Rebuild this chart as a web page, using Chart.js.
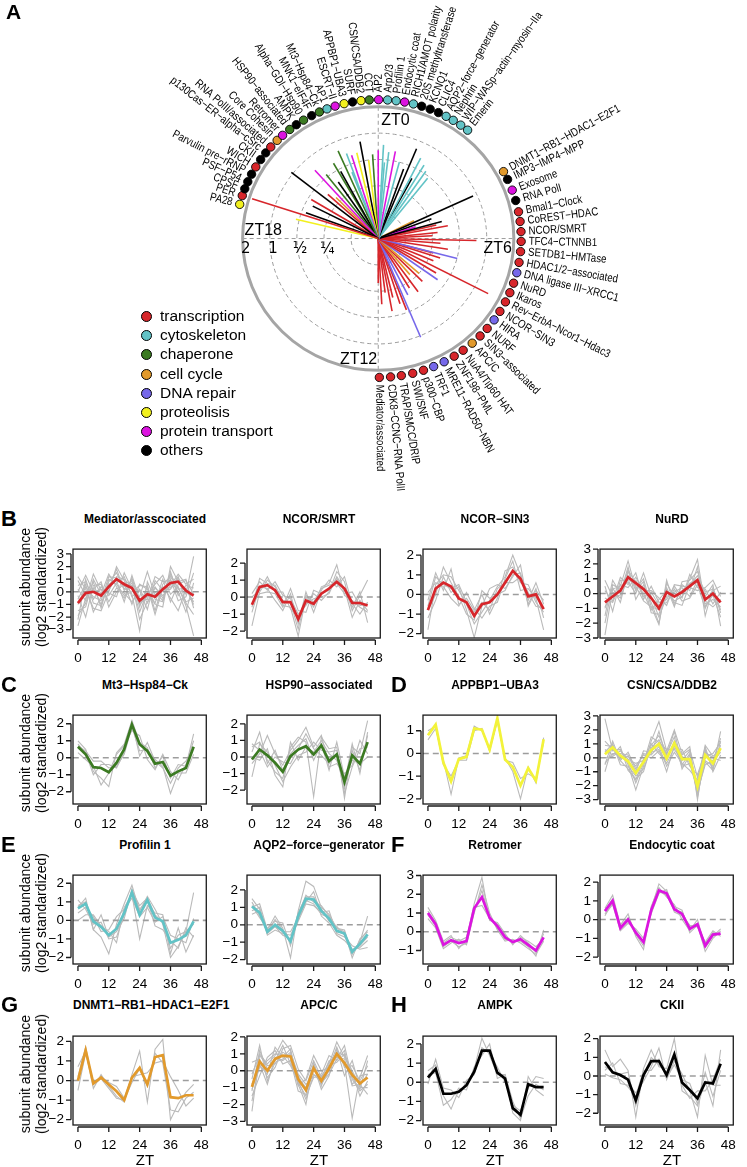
<!DOCTYPE html>
<html>
<head>
<meta charset="utf-8">
<script src="https://cdn.jsdelivr.net/npm/chart.js@4.4.0/dist/chart.umd.min.js"></script>
<style>
  body { margin: 0; background: #fff; width: 747px; height: 1167px; position: relative; overflow: hidden;
         font-family: "Liberation Sans", Arial, Helvetica, sans-serif; color: #000; }
  canvas { position: absolute; }
  .t { position: absolute; white-space: nowrap; }
</style>
</head>
<body>
<canvas id="polar" width="747" height="500" style="left:0;top:0"></canvas>
<script>
// ---------- categories ----------
const catNames = ['transcription', 'cytoskeleton', 'chaperone', 'cell cycle', 'DNA repair', 'proteolisis', 'protein transport', 'others'];
const RED = '#d7262b', TEAL = '#62c3c6', GREEN = '#3b7a22', ORANGE = '#e29a2c', BLUE = '#7668ea', YELLOW = '#f2f01e', MAGENTA = '#dc14e0', BLACK = '#000000';
const catColors = [RED, TEAL, GREEN, ORANGE, BLUE, YELLOW, MAGENTA, BLACK];

// ---------- panel A: phase (ZT h) and log2 amplitude of each complex ----------
const linePhase = [19.2, 20.54, 18.9, 19.35, 19.8, 20.06, 21.2, 21.45, 22.4, 22.67, 22.85, 23.09, 23.31, 21.7, 22.1, 20.8, 21.0, 23.55, 23.75, 22.6, 22.0,
  0.0, 0.21, 0.45, 0.72, 1.0, 1.5, 1.81, 1.3, 2.08, 2.57, 2.3, 1.9, 0.3,
  4.35, 4.97, 4.2, 4.8, 4.6, 5.29, 5.6, 5.8, 6.08, 6.3, 6.6, 6.97, 7.2, 7.5, 7.82, 8.1, 8.37, 8.75, 9.0, 9.3, 9.6, 9.9, 10.2, 10.49, 10.8, 11.1, 11.53, 12.0, 11.8, 11.3, 10.6, 5.1, 7.0];
const lineAmp = [0.89, 0.07, -0.88, -1.16, -1.29, -1.12, -0.51, -0.9, -0.36, -0.57, -0.69, -0.65, -0.26, -1.4, -1.1, -1.5, -1.8, -1.0, -0.8, -1.3, -0.7,
  -0.65, -0.44, -0.7, -0.63, -1.0, -0.31, -0.57, -1.2, -0.74, -1.08, -0.9, -1.4, -1.1,
  -0.15, -1.57, -2.52, -2.55, -1.9, -1.39, -1.8, -2.0, -0.38, -1.7, -1.4, -0.99, -1.6, -1.8, 0.56, -1.5, -1.31, -2.0, -1.7, -2.2, -1.5, -1.8, -1.6, 0.06, -1.4, -1.7, -1.93, -2.31, -1.5, -1.2, -1.1, -1.8, -1.9];
const lineCat = [0, 7, 5, 7, 7, 0, 6, 2, 2, 1, 6, 5, 7, 7, 7, 0, 3, 5, 2, 1, 2,
  6, 1, 1, 6, 1, 7, 1, 7, 1, 1, 1, 7, 1,
  7, 7, 3, 6, 7, 0, 0, 0, 0, 0, 0, 4, 0, 0, 0, 0, 4, 3, 0, 3, 0, 0, 4, 4, 0, 0, 0, 0, 0, 0, 0, 0, 0];

// labels around the circle
const labelNames = ['AP2', 'Arp2/3', 'Profilin 1', 'Endocytic coat', 'RICH1/AMOT polarity', '20S methyltransferase', 'KCNQ1', 'CLIC4',
  'AQP2\u2212force\u2212generator', 'Nephrin', 'WIP\u2212WASp\u2212actin\u2212myosin\u2212IIa', 'Emerin',
  'DNMT1\u2212RB1\u2212HDAC1\u2212E2F1', 'IMP3\u2212IMP4\u2212MPP', 'Exosome', 'RNA PolI', 'Bmal1\u2212Clock', 'CoREST\u2212HDAC', 'NCOR/SMRT',
  'TFC4\u2212CTNNB1', 'SETDB1\u2212HMTase', 'HDAC1/2\u2212associated', 'DNA ligase III\u2212XRCC1', 'NuRD', 'Ikaros', 'Rev\u2212ErbA\u2212Ncor1\u2212Hdac3',
  'NCOR\u2212SIN3', 'HIRA', 'NURF', 'SIN3\u2212associated', 'APC/C', 'NuA4/Tip60 HAT', 'ZNF198\u2212PML', 'MRE11\u2212RAD50\u2212NBN', 'TRF1',
  'p300\u2212CBP', 'SWI/SNF', 'TRAP/SMCC/DRIP', 'CDK8\u2212CCNC\u2212RNA PolII', 'Mediator/associated',
  'PA28', 'PER', 'CPSF', 'PSF\u2212P54', 'Parvulin pre\u2212rRNP', 'WICH', 'CKII', 'p130Cas\u2212ER\u2212alpha\u2212cSrc', 'RNA PolII/associated',
  'Core Cohesin', 'Retromer', 'HSP90\u2212associated', 'AMPK', 'Alpha\u2212GDI\u2212Hsp90', 'MNK1\u2212eIF4F', 'Mt3\u2212Hsp84\u2212Ck', 'AP1',
  'ESCRT\u2212II', 'APPBP1\u2212UBA3', 'SURF', 'CSN/CSA/DDB2', 'CCT'];
const labelZT = [0.01, 0.25, 0.48, 0.71, 0.95, 1.18, 1.42, 1.66, 1.89, 2.11, 2.35, 2.58,
  4.08, 4.32, 4.64, 4.94, 5.26, 5.53, 5.81, 6.08, 6.36, 6.66, 6.95, 7.25, 7.53, 7.81, 8.11, 8.39, 8.69, 8.97, 9.26, 9.57, 9.86, 10.17, 10.48,
  10.77, 11.07, 11.38, 11.67, 11.97,
  18.95, 19.2, 19.4, 19.61, 19.84, 20.07, 20.31, 20.54, 20.75, 21.0, 21.2, 21.45, 21.67, 21.9, 22.15, 22.38, 22.6, 22.83, 23.08, 23.31, 23.54, 23.76];
const labelCat = [6, 1, 1, 6, 1, 7, 7, 7, 1, 1, 1, 1,
  3, 7, 6, 7, 0, 0, 0, 0, 0, 0, 4, 0, 0, 0, 0, 4, 0, 0, 3, 0, 0, 4, 4, 0, 0, 0, 0, 0,
  5, 0, 7, 7, 7, 0, 7, 7, 0, 3, 6, 2, 7, 2, 7, 2, 1, 6, 5, 7, 5, 2];

const ringAmps = ['\u00bc', '\u00bd', '1', '2'];   // amplitude at ring 2,3,4,5

// ---------- panels B-H: time points and series ----------
const hours = [0, 3, 6, 9, 12, 15, 18, 21, 24, 27, 30, 33, 36, 39, 42, 45];
const xTicks = [0, 12, 24, 36, 48];

const mediatorMean = [-0.9, -0.1, 0.0, -0.3, 0.4, 1.0, 0.6, 0.3, -0.7, -0.2, -0.4, 0.2, 0.7, 0.8, 0.1, -0.3];
const mediatorGrey = [
  [-2.7, -0.5, 0.3, -1.0, 0.8, 1.5, 0.2, 0.9, -1.2, 0.5, -1.5, 0.6, 1.2, 0.3, -0.8, -0.5],
  [0.5, 0.8, -0.6, 0.4, -0.3, 0.7, 1.2, -0.4, 0.2, -0.9, 0.3, -0.3, 0.5, 1.4, 0.6, 1.0],
  [-1.5, -1.2, 1.0, -0.2, 1.4, 0.4, -0.5, 1.1, -0.9, -0.3, 0.6, 1.3, -0.2, 0.4, -1.1, -3.5],
  [1.2, 0.2, -1.3, -1.5, 0.0, 2.0, 0.9, -0.2, -3.1, 0.8, -0.6, -0.8, 1.6, -0.3, 0.5, 0.3],
  [-0.3, -2.0, 0.5, 0.6, -0.8, 0.3, -0.1, -0.8, 0.1, -1.4, 0.9, 0.1, 0.2, 1.1, -0.2, 2.8],
  [-1.0, 0.4, -0.4, -0.7, 1.2, 1.1, 0.4, 0.5, -1.6, 0.0, -1.0, -1.2, 2.0, 0.8, 1.0, -1.3],
  [0.2, -0.7, 1.4, 0.1, -0.1, -0.4, 1.5, 0.2, -0.4, 1.6, -0.3, 0.4, -0.5, -1.5, 0.2, -0.8],
  [-2.2, 1.0, -0.9, -1.1, 0.6, 0.9, -0.8, 1.3, -0.6, -0.6, 1.2, 0.8, 0.9, 0.0, -1.6, 0.7],
  [0.9, -0.3, 0.2, 0.8, -1.2, 0.0, 0.7, -1.0, 0.6, 0.2, -0.9, 1.0, -0.8, 0.6, 0.9, -0.2],
  [-0.6, 0.6, -1.6, -0.4, 0.3, 1.8, 0.1, 0.7, -2.2, -0.8, 0.4, -0.5, 1.0, -0.7, -0.4, 1.5],
  [-1.9, -0.9, 0.8, -1.3, 1.0, 0.6, -0.3, 0.0, 0.5, 0.4, -1.8, 0.3, 0.3, 1.2, -0.9, -1.8],
  [0.0, 1.3, 0.0, 0.2, 0.1, 1.2, 1.0, 0.4, -1.0, -0.4, 0.0, -0.7, 1.4, 0.2, 0.3, -1.0]
];
const ncorSmrtMean = [-0.45, 0.6, 0.7, 0.4, -0.3, -0.3, -1.3, -0.2, -0.4, 0.2, 0.5, 0.9, 0.5, -0.35, -0.35, -0.5];
const ncorSmrtGrey = [
  [-1.7, 0.3, 1.0, 0.6, -0.5, -0.6, -2.3, 0.0, -0.6, 0.6, 0.8, 1.9, 0.1, -0.2, -0.6, -0.9],
  [0.2, 0.9, 0.4, 0.9, 0.1, -0.1, -1.0, -0.5, 0.2, -0.2, 0.3, 1.5, 0.9, -0.8, 0.1, 1.0],
  [-0.9, 0.6, 0.5, -0.2, -0.8, 0.2, -1.6, 0.3, -0.9, 0.4, 1.0, 0.6, 1.2, -0.4, -1.0, -0.3],
  [0.0, 0.4, 1.2, 0.3, 0.3, -0.7, -1.2, -0.4, -0.1, 0.0, 0.2, 1.2, 0.5, -1.2, -0.2, -0.8],
  [-0.6, 1.1, 0.8, 0.7, -0.2, -0.3, -1.9, 0.1, -0.3, 0.5, 0.7, 0.8, 0.2, 0.3, -0.5, -0.4],
  [-0.4, 0.2, 0.3, 0.2, -0.6, 0.5, -0.8, -0.9, 0.4, 0.2, 0.4, 1.1, 0.4, -0.6, 0.3, -1.5]
];
const ncorSin3Mean = [-0.8, 0.3, 0.6, 0.4, -0.2, -0.4, -1.1, -0.5, -0.4, 0.0, 0.6, 1.2, 0.8, -0.1, 0.0, -0.75];
const ncorSin3Grey = [
  [-1.8, 0.5, 1.0, 0.9, 0.2, -0.5, -1.5, -0.9, -0.3, 0.4, 0.9, 2.0, 1.0, -0.5, 0.3, -1.2],
  [-0.3, 1.1, 0.2, 1.3, -0.5, -0.2, -0.8, 0.0, -1.0, -0.2, 1.2, 1.4, 0.6, 0.5, -0.4, -0.9],
  [-1.2, -0.3, 0.9, 0.1, 0.4, -0.8, -2.2, -0.6, 0.3, 0.5, 0.3, 0.9, 1.5, -0.6, 0.2, -0.3],
  [0.1, 0.6, 0.4, -0.2, -0.6, 0.1, -0.7, -1.2, -0.6, -0.4, 0.8, 1.7, 0.2, 0.3, -0.2, -1.8],
  [-0.8, 0.0, 1.4, 0.6, -0.1, -1.0, -1.3, 0.2, -0.2, 0.0, 0.2, 1.0, 1.1, -0.3, 0.6, -0.5],
  [-0.6, 0.9, 0.5, 0.3, 0.5, -0.4, -0.9, -0.4, -0.8, 0.3, 0.6, 0.6, 0.9, 0.1, -0.6, -0.7]
];
const nurdMean = [-0.6, -0.2, 0.2, 1.1, 0.7, 0.3, -0.3, -1.0, 0.1, -0.2, 0.1, 0.5, 0.9, -0.4, 0.0, -0.6];
const nurdGrey = [
  [-2.8, 0.3, 0.5, 2.2, 0.3, 1.0, -0.9, -2.1, 0.9, -0.8, 0.6, 0.2, 1.8, -1.5, 0.4, -1.3],
  [0.2, -0.5, 1.1, 0.6, 1.4, -0.4, 0.5, -0.6, -0.4, 0.5, -0.3, 1.3, 0.4, 0.3, -0.7, 0.1],
  [-1.0, 0.4, -0.6, 1.5, 0.2, 0.8, -1.3, -1.4, 0.4, -0.9, 0.8, 0.9, 1.5, -0.2, 0.6, -2.2],
  [0.5, -1.2, 0.9, 0.9, 0.9, -0.2, 0.1, -0.8, -0.6, 0.3, -0.5, -0.3, 0.6, -1.0, 0.2, 0.5],
  [-1.5, 0.9, 0.0, 1.8, -0.4, 0.6, -0.6, -2.0, 0.7, -0.2, 0.2, 0.7, 1.0, -0.7, -0.4, -0.9],
  [-0.3, -0.6, 0.6, 0.4, 1.1, 0.2, 0.2, -0.3, -0.8, 0.6, 0.5, 0.4, 0.2, 0.4, 0.9, -0.2],
  [-0.9, 0.1, -0.3, 1.2, 0.5, -0.5, -0.9, -1.1, 0.3, -0.5, -0.2, 1.0, 2.3, -0.9, -0.1, -1.6],
  [-2.0, 0.6, 0.3, 0.8, 0.0, 1.4, -0.2, -1.6, -0.2, 0.1, 0.4, -0.2, 0.9, -0.5, -0.9, -0.4],
  [0.9, -0.2, -0.1, 1.6, 0.7, 0.0, -1.1, -0.4, 0.2, -0.6, -0.8, 0.6, 1.2, 0.1, 0.3, -1.1]
];
const mt3Mean = [0.65, 0.2, -0.55, -0.6, -0.85, -0.3, 0.5, 1.95, 0.8, 0.4, -0.35, -0.25, -1.05, -0.8, -0.6, 0.65];
const mt3Grey = [
  [1.0, 0.5, -0.8, -1.2, -1.7, 0.3, 0.8, 2.2, 0.9, 0.6, -0.6, 0.1, -1.2, -0.4, -0.5, 1.4],
  [0.7, 0.4, -0.2, -0.2, -0.6, -0.5, 0.2, 1.8, 0.4, 0.5, -0.1, -0.5, -2.1, -0.9, -0.9, 0.2],
  [0.3, -0.1, -0.5, -1.6, -0.9, 0.2, 0.7, 1.6, 1.3, -0.1, -0.7, 0.2, -0.8, -1.3, -0.4, 1.0],
  [0.8, 0.3, -1.0, -0.4, -0.4, -0.6, 0.3, 2.1, 0.1, 0.9, -0.2, -0.6, -1.5, -0.6, -0.2, 0.6]
];
const hsp90Mean = [-0.15, 0.45, 0.1, -0.35, -0.9, 0.05, 0.45, 0.65, 0.15, 0.7, -0.25, 0.15, -1.5, 0.1, -0.4, 0.9];
const hsp90Grey = [
  [0.6, 0.9, -0.2, -0.9, -1.3, 0.6, 1.2, 0.9, -2.4, 1.2, 0.5, 0.6, -2.5, 0.6, 0.2, 2.2],
  [-0.4, 0.2, 1.3, 0.2, -0.5, 0.4, 1.0, 1.8, 0.6, 1.3, -0.6, -0.4, -1.0, -0.5, 1.0, 0.2],
  [-1.2, 0.8, 0.3, -0.5, -1.5, -0.6, 0.1, 0.3, 0.9, 0.4, 0.3, 0.4, -1.9, 0.4, -0.8, 1.3],
  [0.3, 1.5, -0.4, 0.4, -0.8, 0.2, 0.7, 1.1, -0.2, 0.8, -0.8, 0.9, -1.2, -0.2, -0.4, 0.0],
  [0.0, -0.2, 0.5, -1.1, -1.8, 0.9, -0.2, 0.6, 0.3, 1.0, 0.2, -0.2, -1.6, 0.8, -1.0, 1.5],
  [0.8, 0.4, -0.6, 0.0, -0.3, -0.4, 0.5, 1.4, 0.5, 0.1, -0.4, 0.2, -2.2, -0.6, 0.5, 0.6]
];
const appbp1Mean = [0.8, 1.27, -0.4, -1.23, -0.25, -0.15, 1.1, 1.05, 0.17, 1.55, -0.27, -0.6, -1.42, -0.65, -1.2, 0.62];
const appbp1Grey = [
  [0.6, 1.1, -0.3, -1.8, -0.2, -0.1, 1.2, 1.0, 0.2, 1.4, -0.2, -0.8, -2.0, -0.6, -1.3, 0.7],
  [1.0, 1.2, -0.5, -1.0, -0.3, -0.3, 1.0, 1.1, 0.1, 1.5, -0.3, -0.4, -1.1, -0.9, -1.1, 0.5]
];
const csnMean = [0.25, 0.75, 0.15, -0.25, -1.1, -0.3, 0.55, 1.0, -0.05, 1.05, -0.1, -0.1, -2.05, 0.2, -0.4, 0.7];
const csnGrey = [
  [2.8, 0.5, 0.6, -0.5, -2.3, -0.6, 1.2, 2.6, 0.5, 2.0, 0.3, 0.8, -3.0, 0.6, -0.8, 1.9],
  [-0.5, 1.2, -0.2, 0.4, -0.8, 0.3, 0.2, 0.8, -0.6, 0.4, -0.4, -0.9, -1.6, 0.9, 0.1, 0.6],
  [0.6, 0.2, 0.8, -0.9, -1.5, -1.0, 0.9, 1.6, 0.3, 1.5, -0.8, 0.2, -2.5, -0.3, -0.9, 1.2],
  [-1.0, 0.9, 0.0, 0.1, -0.6, 0.2, 0.0, 0.5, -0.4, 0.7, 0.6, -0.6, -1.2, 0.4, 0.0, -0.2],
  [0.4, 1.0, -0.5, -0.6, -1.3, -0.8, 0.7, 1.3, 0.2, 1.9, -0.5, 0.3, -2.2, -0.2, -0.6, 0.9],
  [-0.4, 0.3, 0.3, 0.2, -1.0, 0.5, 0.4, 0.6, -1.0, 0.9, 0.1, -0.3, -1.9, 0.8, -1.0, 0.2],
  [1.2, 0.6, 0.1, -0.3, -1.8, -0.4, 1.5, 1.1, 0.6, 0.6, -0.2, 0.5, -2.8, 0.1, 0.3, 1.1],
  [0.0, 0.1, 0.5, -0.1, -0.4, -0.2, 1.0, 0.3, -0.2, 1.2, 0.2, 0.6, -1.4, 0.3, -0.3, 0.4],
  [0.9, 0.8, -0.2, -0.8, -1.6, -0.1, 0.3, 1.9, 0.0, 0.9, -0.6, -0.4, -2.4, -0.5, -0.2, 1.4]
];
const profilinMean = [0.65, 0.9, -0.05, -0.35, -0.8, -0.45, 0.4, 1.5, 0.3, 1.1, 0.15, -0.05, -1.2, -1.05, -0.8, -0.05];
const profilinGrey = [
  [0.7, 1.2, -0.5, -0.9, -1.8, -0.2, 0.9, 1.9, 0.5, 1.3, 0.6, -0.2, -2.0, -1.4, -0.6, 1.5],
  [0.0, 0.3, 0.3, -0.3, -0.6, -1.2, 0.7, 1.4, -1.0, 0.8, 0.4, 0.3, -1.8, -0.4, -1.7, -0.8],
  [0.8, 1.0, -0.5, 0.3, -0.9, -0.6, 0.1, 1.7, 0.6, 1.1, -0.3, -0.5, -1.1, -1.5, -0.4, -0.9],
  [0.4, 0.7, 0.2, -0.6, -0.5, 0.2, 0.6, 1.2, 0.2, 0.7, -0.1, 0.2, -0.8, -1.0, -1.2, 0.1],
  [1.1, 0.6, -0.2, -0.1, -1.0, -0.9, 0.3, 1.6, 0.8, 1.2, 0.3, -0.1, -1.5, -0.8, -0.6, -0.2]
];
const aqp2Mean = [1.05, 0.7, -0.4, 0.0, -0.35, -0.95, 0.5, 1.5, 1.45, 0.8, 0.35, -0.35, -0.5, -1.55, -1.1, -0.55];
const aqp2Grey = [
  [1.5, 0.9, -0.3, 0.5, -0.2, -1.9, 0.8, 2.5, 2.2, 1.0, 0.6, -0.2, -0.4, -1.9, -0.8, -0.4],
  [0.8, 1.0, -0.6, -0.3, -0.5, -0.6, 0.3, 1.3, 1.9, 0.5, 0.1, -0.6, -0.9, -1.4, -1.3, -0.9],
  [1.1, 0.4, -0.2, 0.2, 0.1, -1.2, 0.6, 1.7, 1.3, 1.1, 0.5, -0.2, -0.3, -1.7, -0.9, -0.3],
  [0.6, 0.8, -0.5, -0.1, -0.6, -0.8, 0.2, 1.2, 1.1, 0.7, 0.8, -0.5, -0.7, -1.2, -1.4, -1.3],
  [1.3, 0.5, -0.4, 0.3, -0.3, -1.0, 0.7, 1.6, 1.6, 0.9, 0.2, -0.1, -0.6, -1.6, -1.0, 0.5],
  [1.0, 1.2, -0.3, -0.1, -0.4, -0.4, 0.4, 1.4, 1.2, 0.6, 0.4, -0.4, -0.5, -1.5, -1.2, -0.7]
];
const retromerMean = [1.0, 0.4, -0.7, -0.45, -0.6, -0.5, 1.25, 1.85, 0.75, 0.3, -0.3, -0.55, -0.4, -0.7, -1.0, -0.3];
const retromerGrey = [
  [1.3, 0.6, -0.5, -0.2, -0.9, -0.4, 1.5, 2.9, 0.6, 0.5, -0.1, -0.7, -0.2, -0.6, -1.1, -0.1],
  [0.7, 0.2, -0.9, -0.6, -0.4, -0.7, 1.0, 2.5, 1.0, 0.1, -0.5, -0.4, -0.6, -0.9, -1.2, -0.5],
  [1.1, 0.5, -0.6, -0.3, -0.5, -0.3, 1.3, 1.4, 0.7, 0.4, -0.2, -0.6, -0.3, -0.5, -0.8, -0.4],
  [0.9, 0.3, -0.8, -0.5, -0.8, -0.6, 1.1, 2.2, 0.8, 0.2, -0.4, -0.5, -0.5, -0.8, -1.3, 0.1]
];
const endocyticMean = [0.45, 1.0, -0.45, 0.0, -0.7, -1.2, 0.5, 1.55, 1.4, 0.55, 0.3, -0.5, -0.25, -1.4, -0.8, -0.75];
const endocyticGrey = [
  [0.6, 1.3, -0.3, 0.3, -0.9, -1.6, 0.6, 1.9, 1.5, 0.7, 0.5, -0.7, -0.3, -1.7, -1.0, -0.6],
  [0.3, 0.8, -0.6, -0.2, -0.5, -1.0, 0.3, 1.4, 1.6, 0.4, 0.2, -0.3, -0.4, -1.2, -0.6, -0.9],
  [0.5, 1.1, -0.4, 0.1, -0.8, -1.4, 0.7, 1.7, 1.2, 0.8, 0.0, -0.6, 0.0, -1.5, -0.9, -0.5],
  [0.2, 0.9, -0.5, -0.1, -0.6, -1.2, 0.4, 1.5, 1.3, 0.5, 0.4, -0.4, -0.2, -1.3, -0.7, -0.8]
];
const dnmt1Mean = [0.0, 1.55, -0.15, 0.15, -0.2, -0.55, -1.0, 0.15, 0.65, -0.2, 1.2, 1.3, -0.85, -0.9, -0.75, -0.75];
const dnmt1Grey = [
  [0.7, 1.5, -0.4, 0.3, -0.3, -0.8, -1.1, 0.3, 1.5, -1.1, 1.6, 2.1, -2.0, -1.2, -0.6, -0.2],
  [-0.5, 1.4, -0.1, 0.2, -0.1, -0.3, -0.9, 0.2, 0.3, 0.4, 0.9, 1.0, 0.2, -0.5, -1.3, -0.9],
  [0.2, 1.7, -0.2, 0.1, -0.4, -0.9, -1.0, -0.1, 0.6, -0.3, 1.4, 0.9, -1.5, -1.6, -0.9, -0.6]
];
const apccMean = [-0.95, 0.55, 0.0, 0.7, 0.9, 0.85, -0.5, -1.15, 0.15, -0.6, 0.15, 1.0, 0.45, -0.25, -0.75, -0.4];
const apccGrey = [
  [-2.4, 1.0, 0.4, 0.9, 1.8, 1.2, -0.8, -2.0, 0.5, -0.9, 0.4, 1.7, 0.8, -0.1, -1.5, -0.6],
  [-0.5, 1.5, -0.6, 0.5, 0.7, 1.1, -0.2, -0.8, -0.3, -0.2, 0.9, 0.6, 1.2, -0.8, -0.4, 0.9],
  [-1.5, -0.3, 0.8, 1.2, 0.4, 0.6, -1.2, -1.4, 0.3, -1.1, -0.3, 1.3, -0.3, 0.6, -1.0, -1.0],
  [0.5, 0.7, -0.4, 0.2, 1.3, 1.5, 0.1, -0.6, 0.6, -0.4, 0.5, 1.0, 0.4, -2.8, -0.3, -0.2],
  [-1.1, 0.2, 0.6, 1.0, 0.9, 0.3, -0.6, -1.7, -0.2, -0.7, -0.2, 0.7, 1.5, -0.5, -1.2, -0.8],
  [-0.2, 0.9, 0.3, 0.4, 1.1, 0.8, -0.9, -0.5, 0.9, 0.0, 0.2, 1.4, 0.2, 0.3, -0.6, 0.3],
  [-1.8, 0.4, -0.8, 0.8, 0.6, 1.0, -0.3, -1.2, 0.1, -0.5, 0.6, 0.8, 0.7, -0.9, -0.8, -1.4],
  [-1.2, 1.2, 0.1, 0.6, 1.5, 0.4, -0.4, -1.0, 0.4, -0.8, 0.0, 1.1, 0.9, 0.0, -0.9, -0.2],
  [-0.8, 0.3, -0.2, 1.4, 0.8, 1.3, -0.7, -1.5, -0.4, -0.3, 0.3, 0.5, 1.0, -0.4, -1.1, 0.6]
];
const ampkMean = [0.25, 0.7, -0.6, -0.6, -0.5, -0.15, 0.55, 1.65, 1.65, 0.5, 0.2, -1.35, -1.7, -0.1, -0.25, -0.25];
const ampkGrey = [
  [0.6, 0.9, -0.7, -1.4, -0.4, -0.2, 0.7, 2.3, 1.4, 0.4, 0.4, -1.6, -2.0, 0.3, -0.4, -0.7],
  [-0.1, 1.2, -0.3, -0.4, -0.8, 0.1, 0.4, 1.8, 1.5, 0.8, 0.0, -1.2, -1.5, -0.3, 0.3, 0.2],
  [0.4, 0.5, -1.2, -0.9, -0.3, -0.4, 0.8, 1.4, 2.0, 0.2, 0.4, -1.0, -1.9, -0.7, -0.1, -0.4]
];
const ckiiMean = [0.75, 0.2, 0.05, -0.2, -1.3, 0.05, 0.8, 0.8, 0.05, 1.15, -0.35, -0.75, -1.2, -0.35, -0.4, 0.65];
const ckiiGrey = [
  [1.4, 0.5, 0.9, 0.3, -2.2, 0.4, 1.4, 0.5, 0.4, 2.0, -0.8, -1.1, -1.6, -0.3, -1.6, 1.4],
  [0.3, 0.7, -0.4, -0.5, -0.9, -0.3, 0.5, 1.5, -0.2, 0.8, 0.1, -0.8, -2.2, 1.1, -0.5, -0.5],
  [0.5, 0.2, 0.1, 0.2, -1.6, 0.0, 1.0, 0.6, 0.2, 1.3, -0.5, -1.2, -0.8, -0.8, -0.2, 0.9],
  [0.1, -0.1, -0.2, -0.6, -1.1, 0.3, 0.3, 0.9, -0.1, 0.6, -0.2, -0.4, -1.5, 0.2, -1.1, 0.3]
];

// ---------- layout ----------
const colLeft = [73, 247, 423, 600];
const rowTop = [536, 702, 862, 1023];
const BOX_W = 144, BOX_H = 102;
const LINE_YELLOW = '#f3f33a';

const panels = [
  { title: 'Mediator/asscociated', letter: 'B', mean: mediatorMean, grey: mediatorGrey, color: RED, yMin: -3.66, yMax: 3.38 },
  { title: 'NCOR/SMRT', mean: ncorSmrtMean, grey: ncorSmrtGrey, color: RED, yMin: -2.41, yMax: 2.82 },
  { title: 'NCOR\u2212SIN3', mean: ncorSin3Mean, grey: ncorSin3Grey, color: RED, yMin: -2.22, yMax: 2.31 },
  { title: 'NuRD', mean: nurdMean, grey: nurdGrey, color: RED, yMin: -3.0, yMax: 3.0 },
  { title: 'Mt3\u2212Hsp84\u2212Ck', letter: 'C', mean: mt3Mean, grey: mt3Grey, color: GREEN, yMin: -2.72, yMax: 2.51 },
  { title: 'HSP90\u2212associated', mean: hsp90Mean, grey: hsp90Grey, color: GREEN, yMin: -2.84, yMax: 2.53 },
  { title: 'APPBP1\u2212UBA3', letter: 'D', mean: appbp1Mean, grey: appbp1Grey, color: LINE_YELLOW, yMin: -2.23, yMax: 1.69 },
  { title: 'CSN/CSA/DDB2', mean: csnMean, grey: csnGrey, color: LINE_YELLOW, yMin: -3.31, yMax: 3.06 },
  { title: 'Profilin 1', letter: 'E', mean: profilinMean, grey: profilinGrey, color: TEAL, yMin: -2.35, yMax: 2.44 },
  { title: 'AQP2\u2212force\u2212generator', mean: aqp2Mean, grey: aqp2Grey, color: TEAL, yMin: -2.25, yMax: 2.85 },
  { title: 'Retromer', letter: 'F', mean: retromerMean, grey: retromerGrey, color: MAGENTA, yMin: -1.72, yMax: 3.02 },
  { title: 'Endocytic coat', mean: endocyticMean, grey: endocyticGrey, color: MAGENTA, yMin: -2.37, yMax: 2.37 },
  { title: 'DNMT1\u2212RB1\u2212HDAC1\u2212E2F1', letter: 'G', mean: dnmt1Mean, grey: dnmt1Grey, color: ORANGE, yMin: -2.27, yMax: 2.27 },
  { title: 'APC/C', mean: apccMean, grey: apccGrey, color: ORANGE, yMin: -3.21, yMax: 2.05 },
  { title: 'AMPK', letter: 'H', mean: ampkMean, grey: ampkGrey, color: BLACK, yMin: -2.23, yMax: 2.41 },
  { title: 'CKII', mean: ckiiMean, grey: ckiiGrey, color: BLACK, yMin: -2.63, yMax: 2.14 }
];

function addText(txt, css) {
  const d = document.createElement('div');
  d.className = 't';
  d.innerHTML = txt;
  Object.assign(d.style, css);
  document.body.appendChild(d);
  return d;
}
const minus = v => (v < 0 ? '\u2212' + Math.abs(v) : String(v));

// ---------- panel A ----------
const UX = 27.5, UY = 26.9, CX = 378.3, CY = 238.3;
const DOT_R = 5.27, TEXT_R = 5.55;

const polarDecor = {
  id: 'polarDecor',
  beforeDatasetsDraw(chart) {
    const { ctx, scales: { x, y } } = chart;
    const cx = x.getPixelForValue(0), cy = y.getPixelForValue(0);
    const ux = x.getPixelForValue(1) - cx, uy = cy - y.getPixelForValue(1);
    ctx.save();
    ctx.strokeStyle = '#9c9c9c';
    ctx.lineWidth = 1;
    ctx.setLineDash([4, 3]);
    [1, 2, 3, 4].forEach(r => {
      ctx.beginPath();
      ctx.ellipse(cx, cy, r * ux, r * uy, 0, 0, 2 * Math.PI);
      ctx.stroke();
    });
    ctx.beginPath();
    ctx.moveTo(cx, cy - 5 * uy); ctx.lineTo(cx, cy + 5 * uy);
    ctx.moveTo(cx - 5 * ux, cy); ctx.lineTo(cx + 5 * ux, cy);
    ctx.stroke();
    ctx.setLineDash([]);
    ctx.strokeStyle = '#a5a5a5';
    ctx.lineWidth = 3;
    ctx.beginPath();
    ctx.ellipse(cx, cy, 5 * ux, 5 * uy, 0, 0, 2 * Math.PI);
    ctx.stroke();

    ctx.fillStyle = '#000';
    ctx.textBaseline = 'middle';
    ctx.font = '16px "Liberation Sans", Arial, sans-serif';
    ctx.textAlign = 'left';
    ctx.fillText('ZT0', cx + 3, cy - 5 * uy + 14);
    ctx.fillText('ZT18', cx - 5 * ux + 2, cy - 8);
    ctx.textAlign = 'right';
    ctx.fillText('ZT6', cx + 5 * ux - 2, cy + 10);
    ctx.fillText('ZT12', cx - 1, cy + 5 * uy - 11);
    ctx.font = '15px "DejaVu Sans", sans-serif';
    ctx.textAlign = 'center';
    ringAmps.forEach((s, i) => {
      ctx.fillText(s, cx - (i + 2 - 0.12) * ux, cy + 11);
    });
    ctx.restore();
  },
  afterDatasetsDraw(chart) {
    const { ctx, scales: { x, y } } = chart;
    ctx.save();
    ctx.fillStyle = '#000';
    ctx.font = '11.5px "Liberation Sans", Arial, sans-serif';
    ctx.textBaseline = 'middle';
    labelNames.forEach((name, i) => {
      const th = labelZT[i] * Math.PI / 12;
      const px = x.getPixelForValue(TEXT_R * Math.sin(th));
      const py = y.getPixelForValue(TEXT_R * Math.cos(th));
      ctx.save();
      ctx.translate(px, py);
      if (labelZT[i] < 12.2) {
        ctx.rotate(th - Math.PI / 2);
        ctx.textAlign = 'left';
      } else {
        ctx.rotate(th + Math.PI / 2);
        ctx.textAlign = 'right';
      }
      ctx.scale(0.84, 1);   // narrow face, as in the original
      ctx.fillText(name, 0, 0);
      ctx.restore();
    });
    ctx.restore();
  }
};

const polarSets = [];
polarSets.push({
  data: labelZT.map(z => ({ x: DOT_R * Math.sin(z * Math.PI / 12), y: DOT_R * Math.cos(z * Math.PI / 12) })),
  pointRadius: 4.2, pointBackgroundColor: labelCat.map(c => catColors[c]),
  pointBorderColor: '#000', pointBorderWidth: 0.9, showLine: false
});
linePhase.forEach((z, i) => {
  const r = lineAmp[i] + 4, th = z * Math.PI / 12;
  polarSets.push({
    data: [{ x: 0, y: 0 }, { x: r * Math.sin(th), y: r * Math.cos(th) }],
    borderColor: catColors[lineCat[i]], borderWidth: 1.6, pointRadius: 0, showLine: true
  });
});

new Chart(document.getElementById('polar'), {
  type: 'scatter',
  data: { datasets: polarSets },
  options: {
    responsive: false, animation: false, devicePixelRatio: 1, events: [],
    layout: { padding: 0 },
    plugins: { legend: { display: false }, tooltip: { enabled: false } },
    scales: {
      x: { display: false, min: -CX / UX, max: (747 - CX) / UX },
      y: { display: false, min: -(500 - CY) / UY, max: CY / UY }
    }
  },
  plugins: [polarDecor]
});

addText('A', { left: '6px', top: '0px', font: 'bold 21px "Liberation Sans", Arial, sans-serif' });
catNames.forEach((n, i) => {
  const yc = 316 + i * 19.2;
  addText('', { left: '141px', top: (yc - 5) + 'px', width: '9px', height: '9px', borderRadius: '50%',
    border: '1px solid #000', background: catColors[i] });
  addText(n, { left: '160px', top: (yc - 10) + 'px', font: '15.5px "Liberation Sans", Arial, sans-serif', lineHeight: '20px' });
});

// ---------- panels B-H ----------
const boxAxes = {
  id: 'boxAxes',
  afterDraw(chart) {
    const { ctx, chartArea: a, scales: { x, y } } = chart;
    ctx.save();
    ctx.strokeStyle = '#1a1a1a';
    ctx.lineWidth = 1.3;
    ctx.strokeRect(a.left, a.top, a.right - a.left, a.bottom - a.top);
    ctx.beginPath();
    const yb = a.bottom + 2;
    ctx.moveTo(x.getPixelForValue(xTicks[0]), yb);
    ctx.lineTo(x.getPixelForValue(xTicks[xTicks.length - 1]), yb);
    xTicks.forEach(v => { const p = x.getPixelForValue(v); ctx.moveTo(p, yb); ctx.lineTo(p, yb + 5); });
    const yt = y.ticks.map(t => t.value);
    const xl = a.left - 2;
    ctx.moveTo(xl, y.getPixelForValue(yt[0]));
    ctx.lineTo(xl, y.getPixelForValue(yt[yt.length - 1]));
    yt.forEach(v => { const p = y.getPixelForValue(v); ctx.moveTo(xl, p); ctx.lineTo(xl - 5, p); });
    ctx.stroke();
    ctx.restore();
  }
};

panels.forEach((p, i) => {
  const col = i % 4, row = Math.floor(i / 4);
  const left = colLeft[col], top = rowTop[row];
  const cv = document.createElement('canvas');
  cv.width = BOX_W + 44;
  cv.height = BOX_H + 32;
  cv.style.left = (left - 40) + 'px';
  cv.style.top = (top - 4) + 'px';
  document.body.appendChild(cv);

  const yTicks = [];
  for (let v = Math.ceil(p.yMin); v <= Math.floor(p.yMax); v++) yTicks.push(v);

  const sets = [];
  sets.push({ data: hours.map((h, k) => ({ x: h, y: p.mean[k] })), borderColor: p.color, borderWidth: 2.7 });
  sets.push({ data: [{ x: -2, y: 0 }, { x: 50, y: 0 }], borderColor: '#9d9d9d', borderWidth: 1.6, borderDash: [6, 4] });
  p.grey.forEach(g => sets.push({ data: hours.map((h, k) => ({ x: h, y: g[k] })), borderColor: '#bababa', borderWidth: 1.1 }));
  sets.forEach(s => { s.showLine = true; s.pointRadius = 0; s.tension = 0; });

  new Chart(cv, {
    type: 'scatter',
    data: { datasets: sets },
    options: {
      responsive: false, animation: false, devicePixelRatio: 1, events: [],
      layout: { padding: { left: 0, top: 4, right: 4, bottom: 0 } },
      plugins: { legend: { display: false }, tooltip: { enabled: false } },
      scales: {
        x: {
          min: -1.92, max: 49.92,
          afterFit: s => { s.height = 28; },
          afterBuildTicks: s => { s.ticks = xTicks.map(v => ({ value: v })); },
          grid: { display: false, drawTicks: false }, border: { display: false },
          ticks: { padding: 12, color: '#000', maxRotation: 0, autoSkip: false,
                   font: { size: 13.5, family: '"Liberation Sans", Arial, sans-serif' } }
        },
        y: {
          min: p.yMin, max: p.yMax,
          afterFit: s => { s.width = 40; },
          afterBuildTicks: s => { s.ticks = yTicks.map(v => ({ value: v })); },
          grid: { display: false, drawTicks: false }, border: { display: false },
          ticks: { padding: 9, color: '#000', autoSkip: false, callback: v => minus(v),
                   font: { size: 13.5, family: '"Liberation Sans", Arial, sans-serif' } }
        }
      }
    },
    plugins: [boxAxes]
  });

  const titleY = [519, 685, 845, 1005][row];
  addText(p.title, { left: left + 'px', width: BOX_W + 'px', textAlign: 'center', top: (titleY - 8) + 'px',
    font: 'bold 12px "Liberation Sans", Arial, sans-serif', lineHeight: '16px' });
  if (p.letter) {
    addText(p.letter, { left: (col === 0 ? 1 : 391) + 'px', top: (titleY - 13) + 'px',
      font: 'bold 22px "Liberation Sans", Arial, sans-serif', lineHeight: '26px' });
  }
  if (col === 0) {
    addText('subunit abundance<br>(log2 standardized)', {
      left: '33px', top: (top + BOX_H / 2) + 'px', textAlign: 'center',
      transform: 'translate(-50%, -50%) rotate(-90deg)',
      font: '14px "Liberation Sans", Arial, sans-serif', lineHeight: '16px'
    });
  }
  if (row === 3) {
    addText('ZT', { left: left + 'px', width: BOX_W + 'px', textAlign: 'center', top: '1150px',
      font: '15px "Liberation Sans", Arial, sans-serif', lineHeight: '20px' });
  }
});
</script>
</body>
</html>
